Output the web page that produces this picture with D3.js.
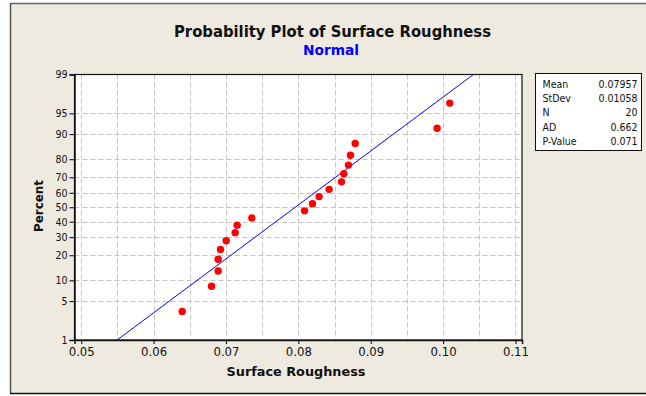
<!DOCTYPE html>
<html>
<head>
<meta charset="utf-8">
<script src="https://cdn.jsdelivr.net/npm/d3@7"></script>
<style>
  html, body { margin: 0; padding: 0; background: #fff; }
  svg text { font-family: Tahoma, "DejaVu Sans Condensed", "DejaVu Sans", sans-serif; }
</style>
</head>
<body>
<div id="chart"></div>
<script>
// surface roughness, sorted
const roughness = [0.06395, 0.0680, 0.06892, 0.06892, 0.06924, 0.07003, 0.07127, 0.07155, 0.07357,
  0.08085, 0.08195, 0.08287, 0.08425, 0.08596, 0.08628, 0.08692, 0.08720, 0.08785, 0.09917, 0.10092];
// plotted percent for each point
const percent = [3.4, 8.3, 13.2, 18.1, 23.0, 27.9, 32.8, 37.7, 42.6, 47.5,
  52.5, 57.4, 62.3, 67.2, 72.1, 77.0, 81.9, 86.8, 91.7, 96.6];
const xTicks = [0.05, 0.06, 0.07, 0.08, 0.09, 0.10, 0.11];
const xGrid = [0.05, 0.055, 0.06, 0.065, 0.07, 0.075, 0.08, 0.085, 0.09, 0.095, 0.10, 0.105, 0.11];
const yTicks = [1, 5, 10, 20, 30, 40, 50, 60, 70, 80, 90, 95, 99];
const statLabels = ['Mean', 'StDev', 'N', 'AD', 'P-Value'];
const statValues = ['0.07957', '0.01058', '20', '0.662', '0.071'];
const fitMean = 0.07957, fitSd = 0.01058;

const W = 646, H = 396;

// inverse normal cdf (Acklam)
function qnorm(p) {
  const a = [-3.969683028665376e+01, 2.209460984245205e+02, -2.759285104469687e+02, 1.383577518672690e+02, -3.066479806614716e+01, 2.506628277459239e+00];
  const b = [-5.447609879822406e+01, 1.615858368580409e+02, -1.556989798598866e+02, 6.680131188771972e+01, -1.328068155288572e+01];
  const c = [-7.784894002430293e-03, -3.223964580411365e-01, -2.400758277161838e+00, -2.549732539343734e+00, 4.374664141464968e+00, 2.938163982698783e+00];
  const d = [7.784695709041462e-03, 3.224671290700398e-01, 2.445134137142996e+00, 3.754408661907416e+00];
  const pl = 0.02425;
  let q, r;
  if (p < pl) {
    q = Math.sqrt(-2 * Math.log(p));
    return (((((c[0]*q+c[1])*q+c[2])*q+c[3])*q+c[4])*q+c[5]) / ((((d[0]*q+d[1])*q+d[2])*q+d[3])*q+1);
  } else if (p <= 1 - pl) {
    q = p - 0.5; r = q * q;
    return (((((a[0]*r+a[1])*r+a[2])*r+a[3])*r+a[4])*r+a[5])*q / (((((b[0]*r+b[1])*r+b[2])*r+b[3])*r+b[4])*r+1);
  }
  q = Math.sqrt(-2 * Math.log(1 - p));
  return -(((((c[0]*q+c[1])*q+c[2])*q+c[3])*q+c[4])*q+c[5]) / ((((d[0]*q+d[1])*q+d[2])*q+d[3])*q+1);
}

const plot = { left: 74.5, right: 522, top: 74.5, bottom: 340 };

const x = d3.scaleLinear().domain([0.04907, 0.1109]).range([plot.left, plot.right]);
const zScale = d3.scaleLinear().domain([qnorm(0.01), qnorm(0.99)]).range([plot.bottom, plot.top]);
const y = p => zScale(qnorm(p / 100));

const svg = d3.select('#chart').append('svg')
  .attr('width', W).attr('height', H);

// window background and frame
svg.append('rect').attr('x', 11).attr('y', 4).attr('width', W - 11).attr('height', 389).attr('fill', '#eeeae0');
svg.append('line').attr('x1', 10.5).attr('x2', W).attr('y1', 3.5).attr('y2', 3.5).attr('stroke', '#666').attr('stroke-width', 1.5);
svg.append('line').attr('x1', 10.5).attr('x2', 10.5).attr('y1', 3).attr('y2', 393).attr('stroke', '#555').attr('stroke-width', 1.5);
svg.append('line').attr('x1', 10).attr('x2', W).attr('y1', 393.5).attr('y2', 393.5).attr('stroke', '#111').attr('stroke-width', 1.5);

// titles
svg.append('text').attr('x', 332.5).attr('y', 37).attr('text-anchor', 'middle')
  .attr('font-size', 16).attr('font-weight', 'bold').attr('fill', '#111')
  .attr('textLength', 317).attr('lengthAdjust', 'spacingAndGlyphs')
  .text('Probability Plot of Surface Roughness');
svg.append('text').attr('x', 331).attr('y', 55).attr('text-anchor', 'middle')
  .attr('font-size', 14).attr('font-weight', 'bold').attr('fill', '#0000ff')
  .attr('textLength', 56).attr('lengthAdjust', 'spacingAndGlyphs')
  .text('Normal');

// plot area
svg.append('rect')
  .attr('x', plot.left).attr('y', plot.top)
  .attr('width', plot.right - plot.left).attr('height', plot.bottom - plot.top)
  .attr('fill', '#fff');

const grid = svg.append('g').attr('stroke', '#c4c4c4').attr('stroke-dasharray', '5,3').attr('stroke-width', 1);
grid.selectAll('line.gx').data(xGrid).join('line')
  .attr('class', 'gx')
  .attr('x1', d => Math.round(x(d)) + 0.5).attr('x2', d => Math.round(x(d)) + 0.5)
  .attr('y1', plot.top).attr('y2', plot.bottom);
grid.selectAll('line.gy').data(yTicks.slice(1, -1)).join('line')
  .attr('class', 'gy')
  .attr('x1', plot.left).attr('x2', plot.right)
  .attr('y1', d => Math.round(y(d)) + 0.5).attr('y2', d => Math.round(y(d)) + 0.5);

// fitted line
const fitPts = [1, 99].map(p => [fitMean + fitSd * qnorm(p / 100), p]);
svg.append('path')
  .attr('d', d3.line().x(d => x(d[0])).y(d => y(d[1]))(fitPts))
  .attr('fill', 'none').attr('stroke', '#0000ff').attr('stroke-width', 1);

// points
svg.append('g').selectAll('circle').data(roughness).join('circle')
  .attr('cx', d => x(d)).attr('cy', (d, i) => y(percent[i]))
  .attr('r', 3.7).attr('fill', '#ff0000');

// frame
svg.append('rect')
  .attr('x', plot.left).attr('y', plot.top)
  .attr('width', plot.right - plot.left).attr('height', plot.bottom - plot.top)
  .attr('fill', 'none').attr('stroke', '#111').attr('stroke-width', 1.2);

// axes
const xAxis = svg.append('g').attr('transform', `translate(0,${plot.bottom})`)
  .call(d3.axisBottom(x).tickValues(xTicks).tickFormat(d3.format('.2f')).tickSizeOuter(0).tickSize(4).tickPadding(3));
xAxis.selectAll('text').attr('font-size', 13).attr('fill', '#111');
xAxis.select('.domain').attr('stroke', '#111').attr('stroke-width', 1.5);

const yAxis = svg.append('g').attr('transform', `translate(${plot.left},0)`)
  .call(d3.axisLeft(zScale).tickValues(yTicks.map(p => qnorm(p / 100))).tickFormat((d, i) => yTicks[i]).tickSizeOuter(0).tickSize(5).tickPadding(2));
yAxis.selectAll('text').attr('font-size', 10.5).attr('fill', '#111');
yAxis.select('.domain').attr('stroke', '#111').attr('stroke-width', 1.5);

svg.append('text').attr('x', 296).attr('y', 376).attr('text-anchor', 'middle')
  .attr('font-size', 13).attr('font-weight', 'bold').attr('fill', '#111')
  .attr('textLength', 139).attr('lengthAdjust', 'spacingAndGlyphs')
  .text('Surface Roughness');
svg.append('text').attr('transform', 'translate(43,206) rotate(-90)').attr('text-anchor', 'middle')
  .attr('font-size', 13).attr('font-weight', 'bold').attr('fill', '#111')
  .attr('textLength', 52).attr('lengthAdjust', 'spacingAndGlyphs')
  .text('Percent');

// stats box
const box = svg.append('g');
box.append('rect').attr('x', 535.5).attr('y', 73.5).attr('width', 106).attr('height', 77)
  .attr('fill', '#fff').attr('stroke', '#111').attr('stroke-width', 1);
box.selectAll('text.lab').data(statLabels).join('text')
  .attr('class', 'lab').attr('x', 542.5).attr('y', (d, i) => 88 + i * 14.2)
  .attr('font-size', 10.5).attr('fill', '#111').text(d => d);
box.selectAll('text.val').data(statValues).join('text')
  .attr('class', 'val').attr('x', 637.5).attr('y', (d, i) => 88 + i * 14.2)
  .attr('text-anchor', 'end')
  .attr('font-size', 10.5).attr('fill', '#111').text(d => d);
</script>
</body>
</html>
